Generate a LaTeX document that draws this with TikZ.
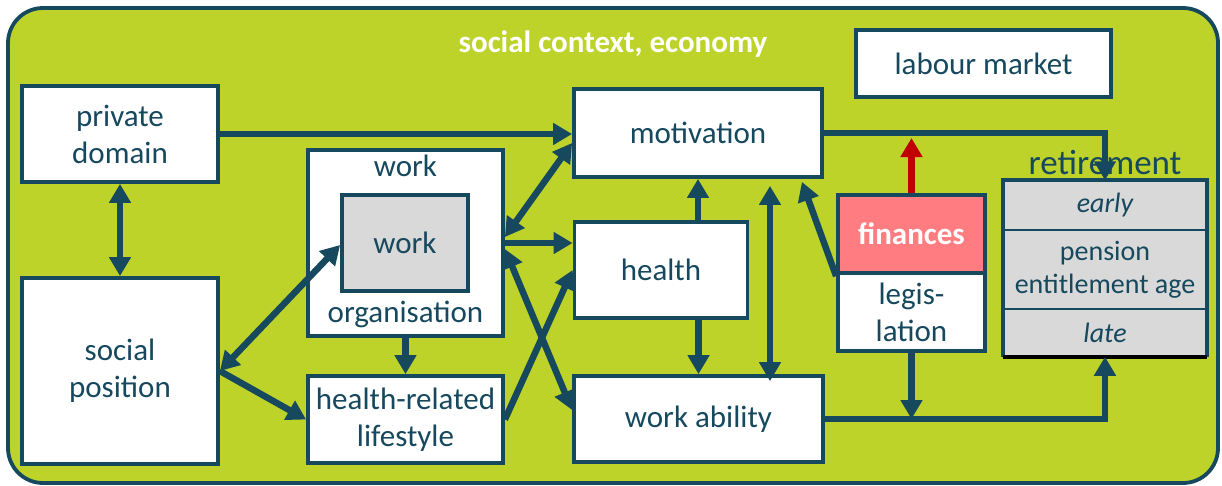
\documentclass[tikz,border=0pt]{standalone}
\usepackage{fontspec}
\setmainfont{Carlito}
\usetikzlibrary{arrows.meta, positioning}
\definecolor{darkteal}{RGB}{22,72,94}
\definecolor{leafgreen}{RGB}{189,211,42}
\definecolor{lightgrey}{RGB}{217,217,217}
\definecolor{salmon}{RGB}{255,124,128}
\definecolor{darkred}{RGB}{192,0,0}
\newcommand{\diagfont}{\fontsize{31}{37}\selectfont}

\begin{document}
\begin{tikzpicture}[%
    x = 1pt,
    y = -1pt,
    >= { Triangle[length=19pt, width=21pt] },
    line width = 6.5pt,
    every node/.style = {%
      text = darkteal,
      font = \diagfont },
    box/.style = {%
      draw = darkteal,
      line width = 3.8pt,
      fill = white,
      inner sep = 0pt,
      align = center },
    row/.style = {%
      box,
      fill = lightgrey,
      line width = 1.5pt,
      minimum width = 202pt,
      font = \fontsize{28}{33}\selectfont }
  ]

\useasboundingbox (0,0) rectangle (1222,485);
\draw[darkteal, fill=leafgreen, line width=3.8pt, rounded corners=35pt] (8,8) rectangle (1218,483);

\node[font=\fontsize{31}{36}\selectfont\bfseries, text=white] (ctx) at (613,44) {social context, economy};
\node[box, minimum width=255pt, minimum height=67pt] (lm) at (983.5,63.5) {labour market};

\node[box, minimum width=196pt, minimum height=96pt] (pd) at (120,134) {private\\domain};
\node[box, minimum width=196pt, minimum height=186pt] (sp) at (120,371) {social\\position};

\node[box, minimum width=195pt, minimum height=186pt] (wo) at (405.5,243) {};
\node[box, fill=lightgrey, minimum width=126pt, minimum height=96pt] (wi) at (405,243) {work};
\node[below=0pt of wo.north] (wotop) {work};
\node[above=3pt of wo.south] (wobot) {organisation};
\node[box, minimum width=195pt, minimum height=87pt] (hl) at (405.5,419.5) {health-related\\lifestyle};

\node[box, minimum width=248pt, minimum height=88pt] (mo) at (698,133) {motivation};
\node[box, minimum width=173pt, minimum height=96pt] (he) at (661,270) {health};
\node[box, minimum width=249pt, minimum height=86pt] (wa) at (698.5,419) {work ability};

\node[box, fill=salmon, minimum width=147pt, minimum height=78pt, text=white,
  font=\diagfont\bfseries] (fi) at (911.5,234) {finances};
\node[box, minimum width=147pt, minimum height=78pt] (le) at (911.5,312) {legis-\\lation};
\coordinate (fitop) at (911.5,138);

\node[font=\fontsize{35}{40}\selectfont] (ret) at (1105,163) {retirement};
\node[row, minimum height=49pt] (rearly) at (1105,205.5) {\itshape early};
\node[row, minimum height=79pt] (rpens) at (1105,269.5) {pension\\entitlement age};
\node[row, minimum height=47pt] (rlate) at (1105,332.5) {\itshape late};
\draw[darkteal, line width=3.8pt] (rlate.south west) -- (rearly.north west) -- (rearly.north east) -- (rlate.south east);
\draw[black, line width=4pt] (rlate.south west) -- (rlate.south east);

\path[->, darkteal]
(pd.east) edge (pd.east -| mo.west)
(sp.east) edge (hl.west)
(wo.south) edge (hl.north)
(wo.east) edge (wo.east -| he.west)
(hl.east) edge (he.west)
(mo.south |- he.north) edge (mo.south)
(wa.north |- he.south) edge (wa.north)
([yshift=-5pt]le.north west) edge ([xshift=-22pt, yshift=-3pt]mo.south east)
(le.south) edge (le.south |- wa.east);

\path[<->, darkteal]
(pd.south) edge (sp.north)
(sp.east) edge ([yshift=-2pt]wi.west)
([yshift=6pt]wo.east) edge ([yshift=-10pt]mo.west)
([yshift=-6pt]wo.east) edge ([yshift=9pt]wa.west)
([xshift=72pt, yshift=-7pt]mo.south) edge ([xshift=72pt, yshift=-7pt]mo.south |- wa.north);

\draw[->, darkteal] (mo.east) -| (rearly.north);
\draw[->, darkteal] (wa.east) -| (rlate.south);
\draw[->, darkred] (fi.north) -- (fitop);

\end{tikzpicture}
\end{document}
